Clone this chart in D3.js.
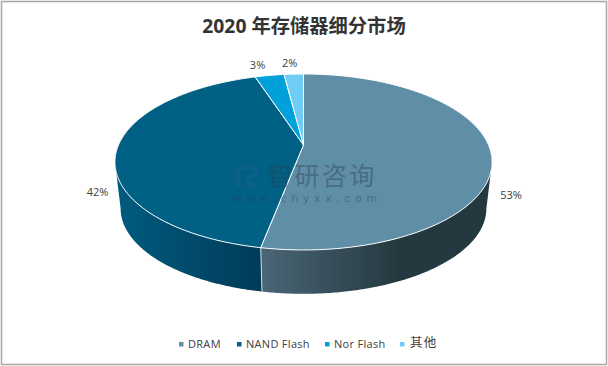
<!DOCTYPE html>
<html>
<head>
<meta charset="utf-8">
<script src="https://cdn.jsdelivr.net/npm/d3@7"></script>
<style>
  html, body { margin: 0; padding: 0; background: #fff; overflow: hidden; }
  svg { display: block; }
</style>
</head>
<body>
<div id="chart"></div>
<script>
// Chart data
const categories = ["DRAM", "NAND Flash", "Nor Flash", "其他"];
const shares = [53, 42, 3, 2];
const topColors = ["#5f8ea7", "#006185", "#00a1da", "#6fcdf5"];
const chartTitle = "2020 年存储器细分市场";

const width = 608, height = 366;

const svg = d3.select("#chart").append("svg")
    .attr("width", width)
    .attr("height", height);

// Frame around the picture
svg.append("rect")
    .attr("x", 1.5).attr("y", 1.5)
    .attr("width", width - 3).attr("height", height - 3)
    .attr("fill", "#fff")
    .attr("stroke", "#a6a6a6")
    .attr("stroke-width", 1.5);

// Title
svg.append("text")
    .attr("x", 304).attr("y", 33)
    .attr("text-anchor", "middle")
    .style("font", "bold 19.3px 'Open Sans', 'Noto Sans CJK SC', sans-serif")
    .style("fill", "#333")
    .text(chartTitle);

// Perspective disc: the hub sits behind the middle of the ellipse
const k = 0.193;                 // perspective strength
const hub = {x: 303.5, y: 145};
const spanX = 185, spanY = 84.7;

// Bottom rim is the same disc, a little smaller and moved down
const lower = {scale: 0.97, y: 192};

function project(a, r = 1) {
    const u = Math.sin(a) * r, v = Math.cos(a) * r;
    return [hub.x + spanX * u / (1 + k * v), hub.y - spanY * v / (1 + k * v)];
}
function projectLower(a) {
    const p = project(a);
    return [hub.x + (p[0] - hub.x) * lower.scale, lower.y + (p[1] - hub.y) * lower.scale];
}

const pie = d3.pie().sort(null).value(d => d)(shares);
const line = d3.line();

function samples(a0, a1) {
    const n = Math.max(2, Math.ceil((a1 - a0) / 0.01));
    return d3.range(n + 1).map(i => a0 + (a1 - a0) * i / n);
}

// Gradients for the side wall
const defs = svg.append("defs");
function wallGradient(id, x1, x2, c1, c2) {
    const g = defs.append("linearGradient")
        .attr("id", id)
        .attr("gradientUnits", "userSpaceOnUse")
        .attr("x1", x1).attr("x2", x2)
        .attr("y1", 0).attr("y2", 0);
    g.append("stop").attr("offset", 0).attr("stop-color", c1);
    g.append("stop").attr("offset", 1).attr("stop-color", c2);
}
wallGradient("wall0", 262, 400, "#4a6576", "#24383f");
wallGradient("wall1", 120, 262, "#005a7e", "#003c57");

// Only the front of the wall can be seen
const frontFrom = Math.acos(-k), frontTo = 2 * Math.PI - frontFrom;

const walls = svg.append("g");
pie.forEach((d, i) => {
    const a0 = Math.max(d.startAngle, frontFrom), a1 = Math.min(d.endAngle, frontTo);
    if (a1 <= a0) return;
    const ring = samples(a0, a1);
    const pts = ring.map(a => project(a)).concat(ring.slice().reverse().map(projectLower));
    walls.append("path")
        .attr("d", line(pts) + "Z")
        .attr("fill", `url(#wall${i})`);
});

// Seam between the two visible walls
walls.append("path")
    .attr("d", line([project(pie[0].endAngle), projectLower(pie[0].endAngle)]))
    .attr("stroke", "#d5dde0")
    .attr("stroke-width", 1)
    .attr("fill", "none");

// Top face
svg.append("g").selectAll("path")
    .data(pie)
    .join("path")
    .attr("d", d => line([[hub.x, hub.y]].concat(samples(d.startAngle, d.endAngle).map(a => project(a)))) + "Z")
    .attr("fill", (d, i) => topColors[i])
    .attr("stroke", "#fff")
    .attr("stroke-width", 1)
    .attr("stroke-linejoin", "round");

// Data labels, offset from the rim at the middle of each slice
const labelOffsets = [[20, 41], [-19, 41], [-12, -11], [-4, -12]];
svg.append("g").selectAll("text")
    .data(pie)
    .join("text")
    .attr("x", (d, i) => project((d.startAngle + d.endAngle) / 2)[0] + labelOffsets[i][0])
    .attr("y", (d, i) => project((d.startAngle + d.endAngle) / 2)[1] + labelOffsets[i][1])
    .attr("text-anchor", "middle")
    .attr("dominant-baseline", "central")
    .style("font", "11px 'Open Sans', sans-serif")
    .style("fill", "#404040")
    .text(d => d.value + "%");

// Watermark
const mark = svg.append("g").style("pointer-events", "none");
mark.append("path")
    .attr("d", "M236 166H247V170H240V187H236Z M250 166H258V178H250V183H258V187H246V175H254V170H250Z")
    .attr("fill", "#1d5f96")
    .attr("opacity", 0.42);
mark.append("text")
    .attr("x", 267).attr("y", 184.5)
    .style("font", "25px 'Noto Sans CJK SC', sans-serif")
    .style("letter-spacing", "2.4px")
    .style("fill", "#2a3f52")
    .style("opacity", 0.42)
    .text("智研咨询");
mark.append("text")
    .attr("x", 233).attr("y", 201.5)
    .style("font", "10.5px 'DejaVu Sans', sans-serif")
    .style("letter-spacing", "4.9px")
    .style("fill", "#2a3f52")
    .style("opacity", 0.42)
    .text("www.chyxx.com");

// Legend
const legendX = d3.scaleOrdinal().domain(categories).range([179, 237, 325, 400]);
const isCjk = d => /[^\x00-\x7f]/.test(d);
const legend = svg.append("g").selectAll("g")
    .data(categories)
    .join("g")
    .attr("transform", d => `translate(${legendX(d)},344)`);
legend.append("rect")
    .attr("y", -2).attr("width", 4.5).attr("height", 4.5)
    .attr("fill", (d, i) => topColors[i]);
legend.append("text")
    .attr("x", d => isCjk(d) ? 10 : 9)
    .attr("y", d => isCjk(d) ? 3 : 4)
    .style("font", d => `${isCjk(d) ? 12.5 : 11}px 'Open Sans', 'Noto Sans CJK SC', sans-serif`)
    .style("letter-spacing", d => isCjk(d) ? "1.2px" : "0.3px")
    .style("fill", "#404040")
    .text(d => d);
</script>
</body>
</html>
